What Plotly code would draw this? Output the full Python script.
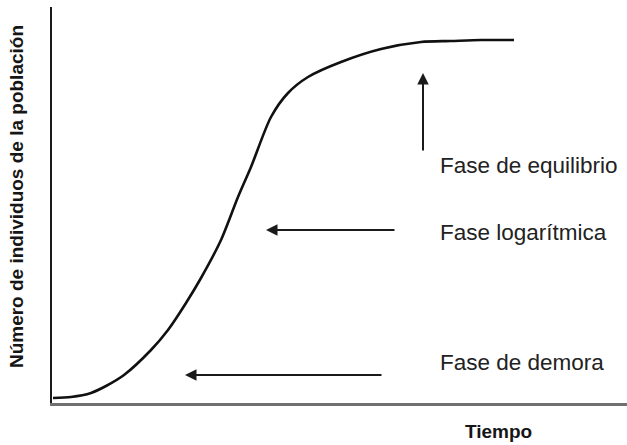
import plotly.graph_objects as go

# Logistic population growth curve (time vs. number of individuals), arbitrary units
tiempo = [1, 19, 39, 54, 72, 99, 116, 134, 149, 169, 186, 199, 219, 236, 256, 289, 329, 369, 399, 429, 462]
poblacion = [5, 6, 10, 17, 28, 53, 73, 100, 125, 163, 206, 236, 286, 310, 326, 341, 354, 361, 362, 363, 363]

# Phase labels and their arrows (head / tail positions in data units)
fases = ["Fase de equilibrio", "Fase logarítmica", "Fase de demora"]
flecha_punta_x = [371, 214, 133]
flecha_punta_y = [330, 173, 28]
flecha_cola_x = [371, 344, 331]
flecha_cola_y = [251, 173, 28]
etiqueta_y = [238, 171, 41]
etiqueta_x = 386

titulo_x = "Tiempo"
titulo_y = "Número de individuos de la población"

FUENTE = "Liberation Sans, Arial, sans-serif"

fig = go.Figure()
fig.add_trace(go.Scatter(
    x=tiempo, y=poblacion, mode="lines",
    line=dict(color="#111111", width=2.6, shape="spline", smoothing=0.8),
    hoverinfo="skip", showlegend=False,
))

annotations = []
for nombre, hx, hy, tx, ty, ly in zip(fases, flecha_punta_x, flecha_punta_y,
                                       flecha_cola_x, flecha_cola_y, etiqueta_y):
    annotations.append(dict(
        x=hx, y=hy, ax=tx, ay=ty, xref="x", yref="y", axref="x", ayref="y",
        text="", showarrow=True, arrowhead=2, arrowsize=1.15, arrowwidth=2,
        arrowcolor="#1a1a1a", standoff=0, startstandoff=0,
    ))
    annotations.append(dict(
        x=etiqueta_x, y=ly, xref="x", yref="y", text=nombre, showarrow=False,
        xanchor="left", yanchor="middle",
        font=dict(family=FUENTE, size=22.5, color="#222222"),
    ))

# Axis titles (placed in paper coordinates, outside the plotting area)
annotations.append(dict(
    x=0.776, y=-0.073, xref="paper", yref="paper", text="<b>" + titulo_x + "</b>",
    showarrow=False, xanchor="center", yanchor="middle",
    font=dict(family=FUENTE, size=19, color="#161616"),
))
annotations.append(dict(
    x=-0.0626, y=0.52, xref="paper", yref="paper", text="<b>" + titulo_y + "</b>",
    showarrow=False, textangle=-90, xanchor="center", yanchor="middle",
    font=dict(family=FUENTE, size=19, color="#161616"),
))

fig.update_layout(
    width=627, height=445, autosize=False,
    margin=dict(l=52, r=0, t=7, b=42),
    paper_bgcolor="white", plot_bgcolor="white",
    xaxis=dict(range=[0, 575], showline=True, linecolor="#707070", linewidth=3,
               showticklabels=False, ticks="", showgrid=False, zeroline=False,
               fixedrange=True),
    yaxis=dict(range=[0, 396], showline=True, linecolor="#1a1a1a", linewidth=2,
               showticklabels=False, ticks="", showgrid=False, zeroline=False,
               fixedrange=True),
    annotations=annotations,
    showlegend=False,
)

fig.write_html("out.html", config={"displayModeBar": False})
